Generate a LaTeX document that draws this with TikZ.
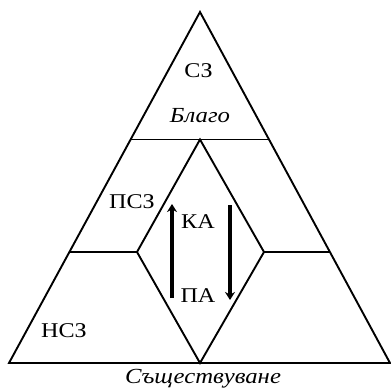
\documentclass[tikz,border=0pt]{standalone}
\usepackage{fontspec}
\setmainfont[FakeStretch=1.15]{Liberation Serif}
\usetikzlibrary{arrows.meta}
\begin{document}
\begin{tikzpicture}[x=1pt,y=-1pt,
  edge/.style={line width=1.9pt,line join=miter},
  lbl/.style={font=\fontsize{21}{24}\selectfont,inner sep=0pt},
  ilbl/.style={font=\fontsize{21.5}{24}\selectfont\itshape,inner sep=0pt},
  thickarrow/.style={line width=4.3pt,-{Stealth[length=8pt,width=10pt]}}]
\useasboundingbox (0,0) rectangle (391,388);
\coordinate (apex) at (200,12);
\coordinate (bl) at (9,363);
\coordinate (br) at (390,363);
\coordinate (tl) at (131,139.5);
\coordinate (tr) at (270,139.5);
\coordinate (dt) at (200,139.5);
\coordinate (dl) at (137,252);
\coordinate (dr) at (264,252);
\coordinate (db) at (200,363);
\coordinate (ml) at (70,252);
\coordinate (mr) at (330,252);
\draw[edge] (apex) -- (bl) -- (br) -- cycle;
\draw[edge] (tl) -- (tr);
\draw[edge] (dt) -- (dl) -- (db) -- (dr) -- cycle;
\draw[edge] (ml) -- (dl);
\draw[edge] (dr) -- (mr);
\node[lbl] (sz) at (198.5,71) {СЗ};
\node[ilbl] (blago) at (200,116) {Благо};
\node[lbl] (psz) at (132,202) {ПСЗ};
\node[lbl] (ka) at (198,222) {КА};
\node[lbl] (pa) at (198,296) {ПА};
\node[lbl] (nsz) at (64,331) {НСЗ};
\node[ilbl] (sush) at (203,379) {Съществуване};
\coordinate (a1s) at (172,298);
\coordinate (a1e) at (172,204);
\coordinate (a2s) at (230,205);
\coordinate (a2e) at (230,300);
\draw[thickarrow] (a1s) -- (a1e);
\draw[thickarrow] (a2s) -- (a2e);
\end{tikzpicture}
\end{document}
